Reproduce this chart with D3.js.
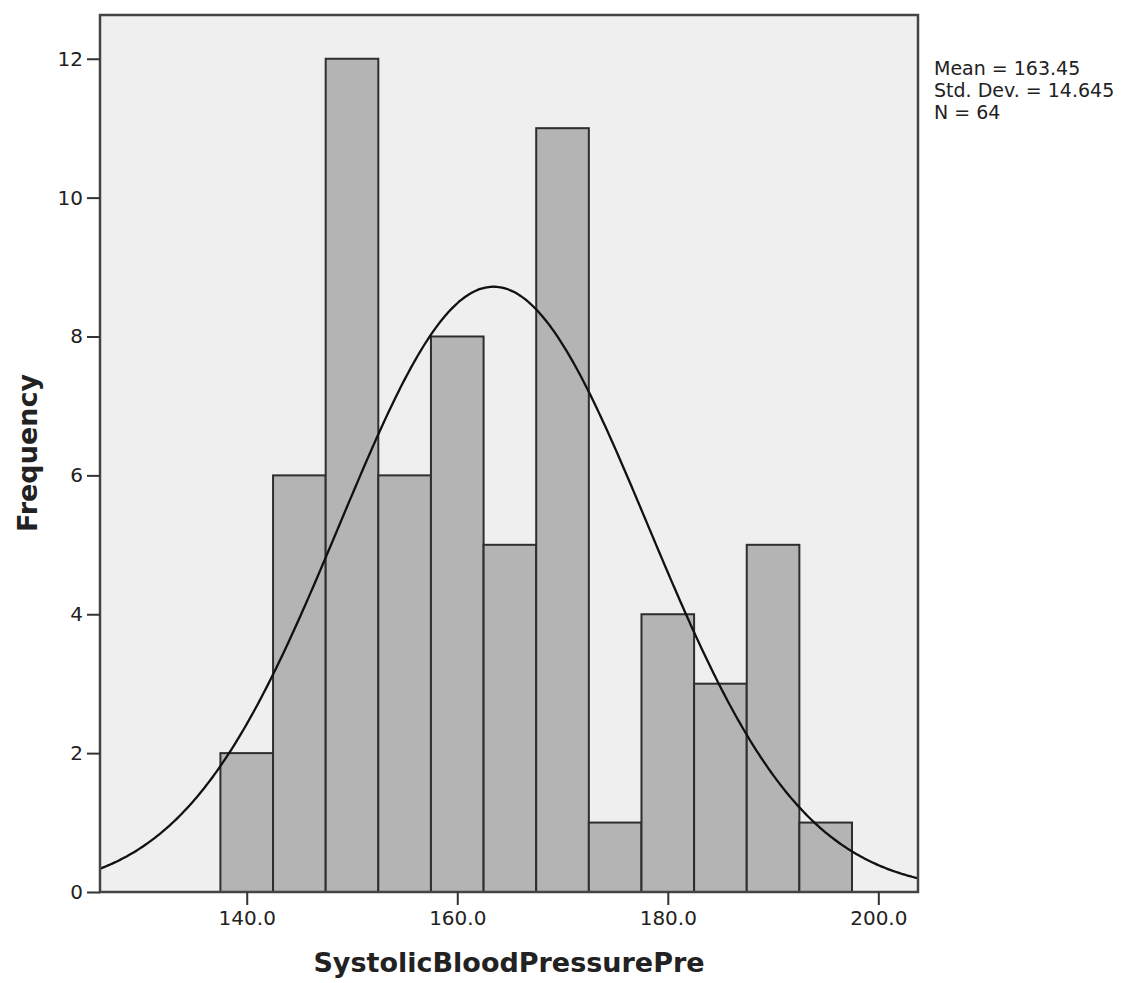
<!DOCTYPE html>
<html>
<head>
<meta charset="utf-8">
<script src="https://cdn.jsdelivr.net/npm/d3@7"></script>
<style>
  html, body { margin: 0; padding: 0; background: #ffffff; }
  svg { display: block; }
  text { font-family: "DejaVu Sans", sans-serif; fill: #222; }
</style>
</head>
<body>
<svg id="chart" width="1137" height="983"></svg>
<script>
// ---- data ----
const binStarts = [137.5, 142.5, 147.5, 152.5, 157.5, 162.5, 167.5, 172.5, 177.5, 182.5, 187.5, 192.5];
const binWidth = 5;
const counts = [2, 6, 12, 6, 8, 5, 11, 1, 4, 3, 5, 1];
const xTicks = [140, 160, 180, 200];
const yTicks = [0, 2, 4, 6, 8, 10, 12];
const statMean = 163.45;
const statSD = 14.645;
const statN = 64;
const legendLines = ["Mean = 163.45", "Std. Dev. = 14.645", "N = 64"];
const xTitle = "SystolicBloodPressurePre";
const yTitle = "Frequency";

// ---- layout ----
const L = 100, T = 15, R = 918, B = 892;
const svg = d3.select("#chart");

const x = d3.scaleLinear().domain([126.06, 203.77]).range([L, R]);
const y = d3.scaleLinear().domain([0, 12.63]).range([B, T]);

// background
svg.append("rect").attr("x", L).attr("y", T).attr("width", R - L).attr("height", B - T)
  .attr("fill", "#efefef");

// bars
svg.append("g").selectAll("rect").data(binStarts).join("rect")
  .attr("x", (d) => x(d))
  .attr("y", (d, i) => y(counts[i]))
  .attr("width", (d) => x(d + binWidth) - x(d))
  .attr("height", (d, i) => y(0) - y(counts[i]))
  .attr("fill", "#b4b4b4")
  .attr("stroke", "#2e2e2e")
  .attr("stroke-width", 2);

// normal curve from the displayed statistics
const [x0, x1] = x.domain();
const curvePts = d3.range(0, 401).map(i => {
  const v = x0 + (x1 - x0) * i / 400;
  const z = (v - statMean) / statSD;
  return [v, statN * binWidth * Math.exp(-0.5 * z * z) / (statSD * Math.sqrt(2 * Math.PI))];
});
svg.append("path").datum(curvePts)
  .attr("d", d3.line().x(d => x(d[0])).y(d => y(d[1])).curve(d3.curveBasis))
  .attr("fill", "none").attr("stroke", "#111").attr("stroke-width", 2.3);

// frame
svg.append("rect").attr("x", L).attr("y", T).attr("width", R - L).attr("height", B - T)
  .attr("fill", "none").attr("stroke", "#444").attr("stroke-width", 2.5);

// axes
const xAxis = svg.append("g").attr("transform", `translate(0,${B})`)
  .call(d3.axisBottom(x).tickValues(xTicks).tickFormat(d3.format(".1f")).tickSize(13).tickSizeOuter(0).tickPadding(6));
const yAxis = svg.append("g").attr("transform", `translate(${L},0)`)
  .call(d3.axisLeft(y).tickValues(yTicks).tickFormat(d3.format("d")).tickSize(13).tickSizeOuter(0).tickPadding(4));
[xAxis, yAxis].forEach(g => {
  g.select(".domain").remove();
  g.selectAll(".tick line").attr("stroke", "#333").attr("stroke-width", 2);
  g.selectAll(".tick text").attr("font-size", 20).attr("fill", "#333")
    .attr("font-family", "DejaVu Sans, sans-serif");
});

// legend
svg.append("g").selectAll("text").data(legendLines).join("text")
  .attr("x", 934).attr("y", (d, i) => 75 + i * 22)
  .attr("font-size", 19).attr("fill", "#333").text(d => d);

// titles
svg.append("text").attr("x", (L + R) / 2).attr("y", 972)
  .attr("text-anchor", "middle").attr("font-size", 27).attr("font-weight", "bold")
  .attr("fill", "#222").text(xTitle);
svg.append("text").attr("transform", `translate(37,453) rotate(-90)`)
  .attr("text-anchor", "middle").attr("font-size", 27).attr("font-weight", "bold")
  .attr("fill", "#222").text(yTitle);
</script>
</body>
</html>
